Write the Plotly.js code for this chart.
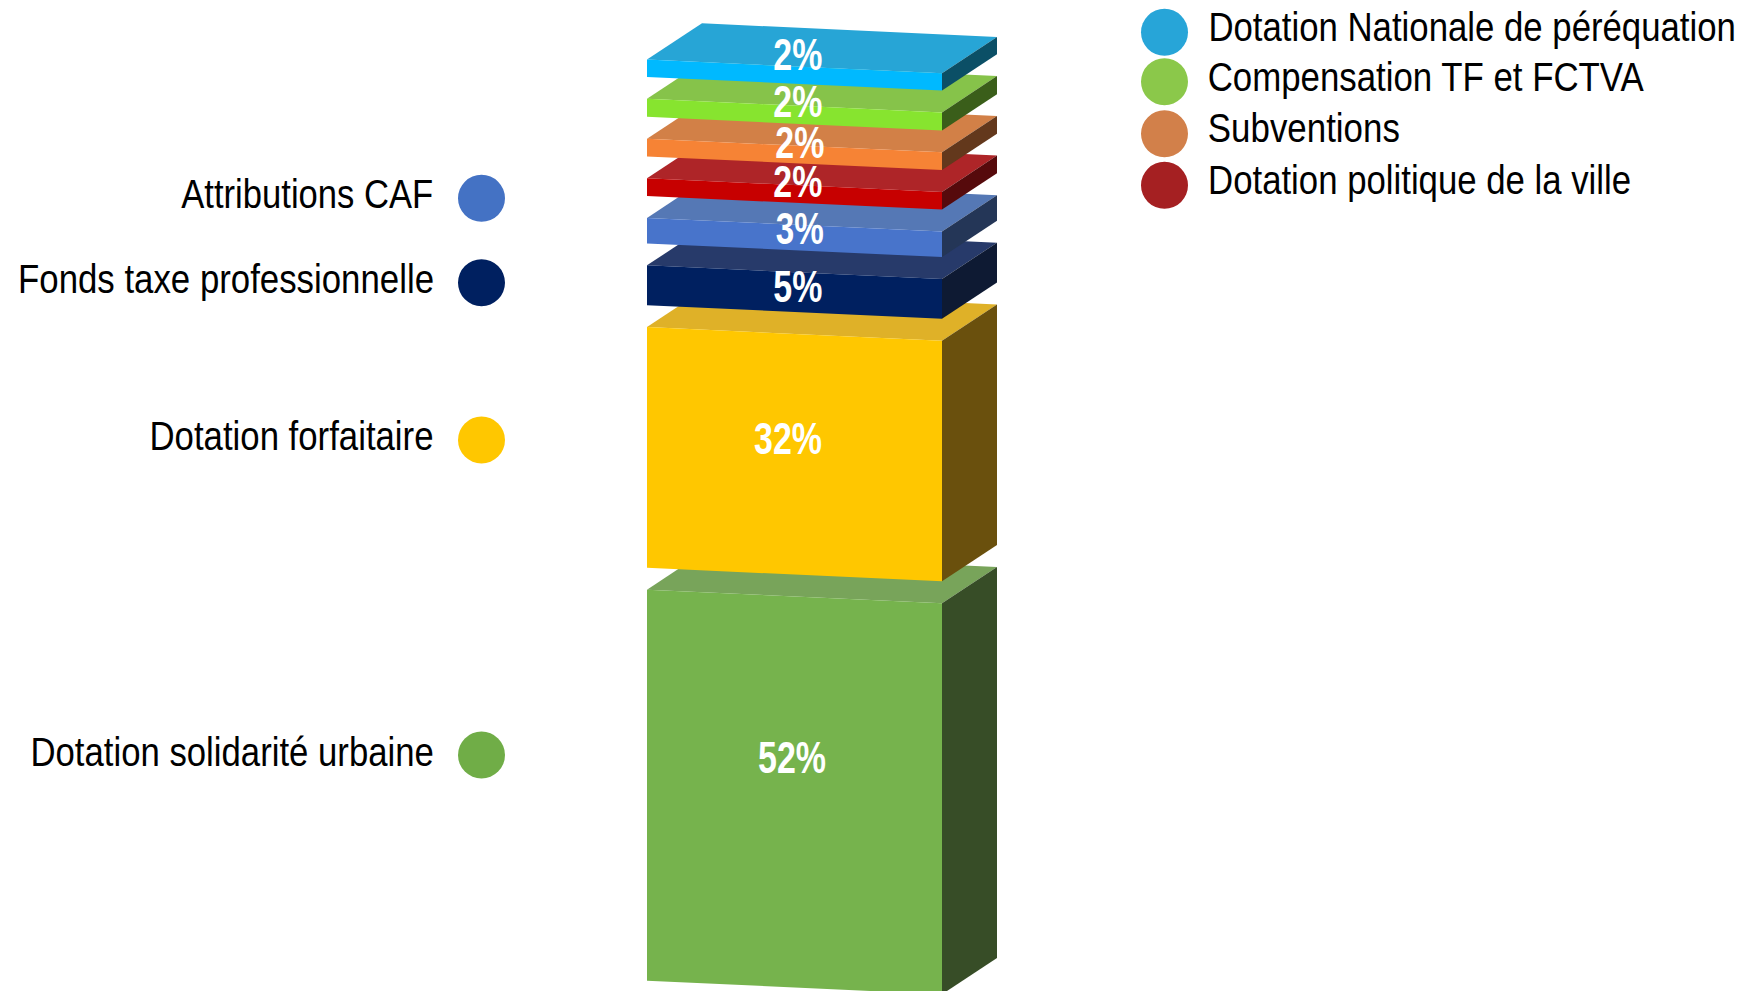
<!DOCTYPE html>
<html>
<head>
<meta charset="utf-8">
<script src="https://cdn.plot.ly/plotly-3.0.1.min.js"></script>
<style>html,body{margin:0;padding:0;background:#fff;overflow:hidden}#chart{width:1749px;height:991px}</style>
</head>
<body>
<div id="chart"></div>
<script>
// Data, bottom of stack first
const categories = ["Dotation solidarité urbaine","Dotation forfaitaire","Fonds taxe professionnelle","Attributions CAF","Dotation politique de la ville","Subventions","Compensation TF et FCTVA","Dotation Nationale de péréquation"];
const values = [52, 32, 5.3, 3.4, 2.35, 2.35, 2.4, 2.3];
const valueLabels = ["52%","32%","5%","3%","2%","2%","2%","2%"];
const frontColors = ["#76B34D","#FFC700","#002060","#4874CB","#C70000","#F68335","#87E42F","#00B9FF"];
const topColors = ["#78A45A","#DFB128","#273A6A","#5578B5","#AE2528","#D28047","#86C34A","#27A5D6"];
const sideColors = ["#374D27","#6A500D","#0E1A33","#243657","#560A0C","#63381C","#3A5E1A","#0B4F66"];
const legendColors = ["#70AD47","#FFC700","#002060","#4472C4","#A52022","#D2804A","#8BC84A","#27A5D8"];

// Geometry
const PX = 7.52, Y0 = 980.7;               // pixels per unit, pixel row of zero
const py = p => (Y0 - p) / PX;             // pixel row -> axis value
const GAP = 21.9 / PX, SKEW = 13.6 / PX, DEPTH = 36.3 / PX;
const XL = 647, XR = 942, DX = 55;
const labelPos = [[792,757],[788,438.5],[798,286],[800,228],[798,181],[800,142],[798,101],[798,54]];
const labelWidth = [68,68,49,48,49,49,49,49];
// category index: [marker centre row, text centre row, text width]
const leftSide = {3:[198.3,193.5,252],2:[282.7,278.5,416],1:[440,435.5,284],0:[755,752,403.5]};
const rightSide = {7:[32.3,27,527.5],6:[81.7,77,436],5:[133.8,128,192],4:[185.3,180,423]};

const traces = [];
function face(xs, ys, color, name) {
  traces.push({type:"scatter",mode:"lines",x:xs,y:ys,fill:"toself",fillcolor:color,
    line:{width:0,color:color},name:name,hoverinfo:"name",showlegend:false});
}
let base = 0;
values.forEach((v,i) => {
  const b = base, t = base + v;
  face([XL,XR,XR+DX,XL+DX,XL],[t,t-SKEW,t-SKEW+DEPTH,t+DEPTH,t],topColors[i],categories[i]);
  face([XR,XR+DX,XR+DX,XR,XR],[t-SKEW,t-SKEW+DEPTH,b-SKEW+DEPTH,b-SKEW,t-SKEW],sideColors[i],categories[i]);
  face([XL,XR,XR,XL,XL],[t,t-SKEW,b-SKEW,b,t],frontColors[i],categories[i]);
  base = t + GAP;
});

const family = "'Liberation Sans',Arial,sans-serif";
const textFont = {family:family,size:41,color:"#000"};
const annotations = [], widths = [], shapes = [];
valueLabels.forEach((s,i)=>{
  annotations.push({x:labelPos[i][0],y:py(labelPos[i][1]),xref:"x",yref:"y",text:s,showarrow:false,
    xanchor:"center",yanchor:"middle",font:{family:family,size:44,color:"#fff",weight:700}});
  widths.push(labelWidth[i]);
});
Object.keys(leftSide).forEach(k=>{
  const [cy,ty,w]=leftSide[k];
  annotations.push({x:433.5-w/2,y:py(ty),xref:"x",yref:"y",text:categories[k],showarrow:false,xanchor:"center",yanchor:"middle",font:textFont});
  widths.push(w);
  shapes.push({type:"circle",xref:"x",yref:"y",x0:481.5-23.5,x1:481.5+23.5,y0:py(cy+23.5),y1:py(cy-23.5),fillcolor:legendColors[k],line:{width:0}});
});
Object.keys(rightSide).forEach(k=>{
  const [cy,ty,w]=rightSide[k];
  annotations.push({x:1208+w/2,y:py(ty),xref:"x",yref:"y",text:categories[k],showarrow:false,xanchor:"center",yanchor:"middle",font:textFont});
  widths.push(w);
  shapes.push({type:"circle",xref:"x",yref:"y",x0:1164.5-23.5,x1:1164.5+23.5,y0:py(cy+23.5),y1:py(cy-23.5),fillcolor:legendColors[k],line:{width:0}});
});

Plotly.newPlot("chart",traces,{
  width:1749,height:991,margin:{l:0,r:0,t:0,b:0,pad:0},
  paper_bgcolor:"#fff",plot_bgcolor:"#fff",showlegend:false,
  xaxis:{range:[0,1749],visible:false,fixedrange:true},
  yaxis:{range:[py(991),py(0)],visible:false,fixedrange:true},
  annotations:annotations,shapes:shapes
},{displayModeBar:false,staticPlot:true}).then(gd=>{
  // The reference uses a condensed face: fit each text to its measured width
  gd.querySelectorAll(".annotation").forEach(g=>{
    const i = +g.getAttribute("data-index");
    const t = g.querySelector("text.annotation-text");
    if(t){ t.setAttribute("textLength",widths[i]); t.setAttribute("lengthAdjust","spacingAndGlyphs"); }
  });
});
</script>
</body>
</html>
